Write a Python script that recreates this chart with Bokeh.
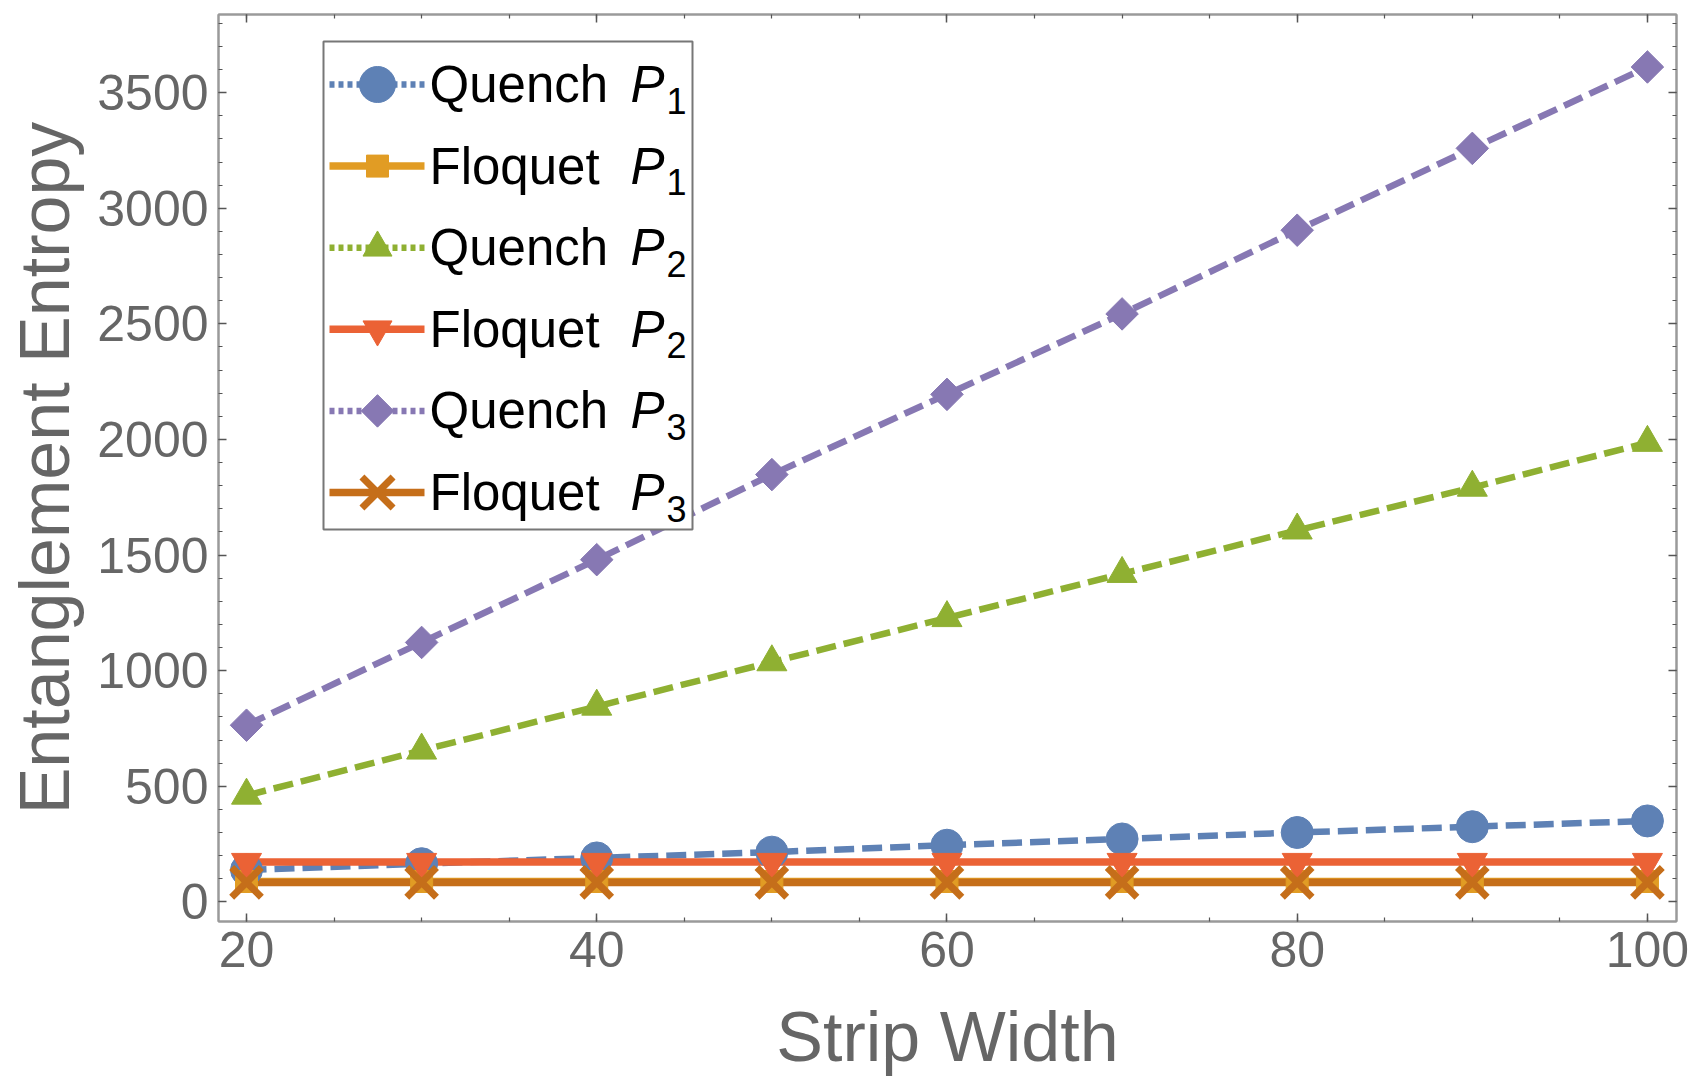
import math
from bokeh.plotting import figure
from bokeh.models import (Range1d, LinearAxis, SingleIntervalTicker,
                          CustomLabelingPolicy)
from bokeh.core.properties import value
from bokeh.embed import file_html
from bokeh.resources import INLINE

# ---------------- data ----------------
strip_width = [20, 30, 40, 50, 60, 70, 80, 90, 100]
quench_p1 = [138, 165, 190, 215, 245, 272, 300, 325, 350]
floquet_p1 = [88, 88, 88, 88, 88, 88, 88, 88, 88]
quench_p2 = [460, 655, 845, 1037, 1228, 1419, 1607, 1792, 1986]
floquet_p2 = [172, 172, 172, 172, 172, 172, 172, 172, 172]
quench_p3 = [764, 1122, 1480, 1848, 2195, 2543, 2905, 3259, 3611]
floquet_p3 = [84, 84, 84, 84, 84, 84, 84, 84, 84]

series_values = [quench_p1, floquet_p1, quench_p2, floquet_p2, quench_p3, floquet_p3]
series_names = ["Quench", "Floquet", "Quench", "Floquet", "Quench", "Floquet"]
series_sub = ["1", "1", "2", "2", "3", "3"]

x_label = "Strip Width"
y_label = "Entanglement Entropy"

# ---------------- styles ----------------
colors = ["#5E81B5", "#E19C24", "#8FB032", "#EB6235", "#8778B3", "#C56E1A"]
dashed = [True, False, True, False, True, False]
markers = ["circle", "square", "triangle", "inverted_triangle", "square", "x"]
msizes = [32, 22, 30, 30, 23, 42]
leg_msizes = [36, 22, 29, 29, 23, 44]
mangles = [0, 0, 0, 0, math.pi / 4, 0]

FONT = "Liberation Sans"
GRAY = "#666666"
FRAME = "#9a9a9a"

W, H = 1691, 1081
BL, BR, BT, BB = 218, 15, 14, 160          # borders around the frame
X0, X1, Y0, Y1 = 18.4, 101.66, -85, 3838   # axis ranges
FW, FH = W - BL - BR, H - BT - BB

p = figure(width=W, height=H, output_backend="svg", toolbar_location=None,
           x_range=Range1d(X0, X1), y_range=Range1d(Y0, Y1),
           min_border_left=BL, min_border_right=BR, min_border_top=BT,
           min_border_bottom=BB)
p.background_fill_color = "white"
p.border_fill_color = "white"
p.outline_line_color = FRAME
p.outline_line_width = 2
p.xgrid.visible = False
p.ygrid.visible = False

p.xaxis.ticker = SingleIntervalTicker(interval=20, num_minor_ticks=4)
p.yaxis.ticker = SingleIntervalTicker(interval=500, num_minor_ticks=5)


def style_axis(ax, labels=True):
    ax.axis_line_color = FRAME
    ax.axis_line_width = 2
    ax.major_tick_in = 8
    ax.major_tick_out = 0
    ax.minor_tick_in = 4
    ax.minor_tick_out = 0
    ax.major_tick_line_color = "#555555"
    ax.minor_tick_line_color = "#555555"
    ax.major_tick_line_width = 1.5
    ax.minor_tick_line_width = 1.2
    if labels:
        ax.major_label_text_font = FONT
        ax.major_label_text_font_size = "50px"
        ax.major_label_text_color = GRAY
        ax.major_label_standoff = 10
        ax.axis_label_text_font = FONT
        ax.axis_label_text_font_size = "70px"
        ax.axis_label_text_color = GRAY
        ax.axis_label_text_font_style = "normal"
    else:
        ax.major_label_text_font_size = "1px"
        ax.major_label_standoff = 0
        ax.major_label_policy = CustomLabelingPolicy(
            code="for (const i of indices) indices.unset(i)")


style_axis(p.xaxis[0])
style_axis(p.yaxis[0])
p.xaxis.axis_label = x_label
p.yaxis.axis_label = y_label
p.xaxis.axis_label_standoff = 28
p.yaxis.axis_label_standoff = 10

top_ax = LinearAxis(ticker=SingleIntervalTicker(interval=20, num_minor_ticks=4))
right_ax = LinearAxis(ticker=SingleIntervalTicker(interval=500, num_minor_ticks=5))
style_axis(top_ax, labels=False)
style_axis(right_ax, labels=False)
p.add_layout(top_ax, "above")
p.add_layout(right_ax, "right")

# ---------------- lines then markers ----------------
for i, vals in enumerate(series_values):
    if dashed[i]:
        p.line(strip_width, vals, line_color=colors[i], line_width=6.5,
               line_dash="20 8")
    else:
        p.line(strip_width, vals, line_color=colors[i], line_width=7.5)
for i, vals in enumerate(series_values):
    if markers[i] == "x":
        p.scatter(strip_width, vals, marker="x", size=msizes[i],
                  line_color=colors[i], line_width=7)
    else:
        p.scatter(strip_width, vals, marker=markers[i], size=msizes[i],
                  angle=mangles[i], fill_color=colors[i], line_color=colors[i],
                  line_width=1)


# ---------------- legend (drawn by hand, pixel layout -> data units) -------
def dx(sx):
    return X0 + (sx - BL) / FW * (X1 - X0)


def dy(sy):
    return Y1 - (sy - BT) / FH * (Y1 - Y0)


box_l, box_t, box_r, box_b = 323, 41, 692, 529
p.quad(left=[dx(box_l)], right=[dx(box_r)], top=[dy(box_t)], bottom=[dy(box_b)],
       fill_color="white", line_color="#777777", line_width=2)

row0, pitch = 84, 81.6          # row centre lines (pixels from the top)
g_l, g_r, g_c = 329, 424, 377
txt_x, p_x, sub_x = 429, 630, 666
for i in range(len(series_values)):
    cy = row0 + pitch * i
    if dashed[i]:
        p.line([dx(g_l), dx(g_r)], [dy(cy), dy(cy)], line_color=colors[i],
               line_width=6.5, line_dash="5 4")
    else:
        p.line([dx(g_l), dx(g_r)], [dy(cy), dy(cy)], line_color=colors[i],
               line_width=7.5)
    if markers[i] == "x":
        p.scatter([dx(g_c)], [dy(cy)], marker="x", size=leg_msizes[i],
                  line_color=colors[i], line_width=7)
    else:
        p.scatter([dx(g_c)], [dy(cy)], marker=markers[i], size=leg_msizes[i],
                  angle=mangles[i], fill_color=colors[i], line_color=colors[i],
                  line_width=1)
    p.text([dx(txt_x)], [dy(cy)], text=[series_names[i]],
           text_font=value(FONT), text_font_size="51px", text_color="black",
           text_baseline="middle", text_align="left")
    p.text([dx(p_x)], [dy(cy)], text=["P"], text_font=value(FONT),
           text_font_size="51px", text_font_style="italic", text_color="black",
           text_baseline="middle", text_align="left")
    p.text([dx(sub_x)], [dy(cy + 16)], text=[series_sub[i]],
           text_font=value(FONT), text_font_size="36px", text_color="black",
           text_baseline="middle", text_align="left")

open("out.html", "w").write(file_html(p, INLINE))
